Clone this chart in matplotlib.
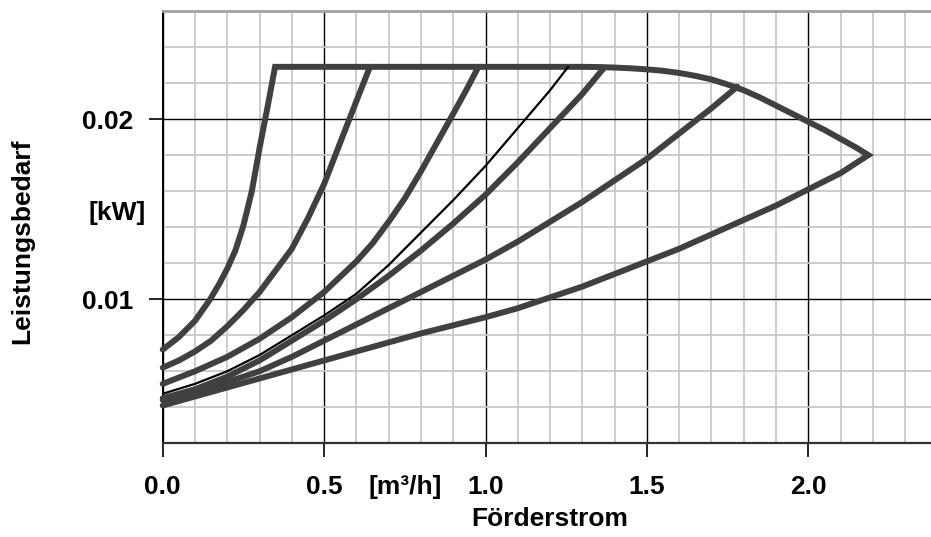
"""
Leistungsbedarf vs. Foerderstrom pump chart (re-drawn).
"""

import matplotlib

matplotlib.use("Agg")
import matplotlib.pyplot as plt
import matplotlib.transforms as mtransforms
from matplotlib.ticker import FixedLocator, MultipleLocator

plt.rcParams["font.family"] = ["Liberation Sans", "DejaVu Sans"]
plt.rcParams["font.weight"] = "bold"

# curves (flow in m3/h, power in kW)
flow_c1 = [0.0, 0.05, 0.10, 0.147, 0.175, 0.20, 0.225, 0.25, 0.276, 0.30, 0.325, 0.348]
power_c1 = [0.0072, 0.0079, 0.0088, 0.0100, 0.01085, 0.0117, 0.0127, 0.0141, 0.0160, 0.0184,
            0.0207, 0.0229]

flow_c2 = [0.0, 0.05, 0.10, 0.15, 0.20, 0.25, 0.30, 0.35, 0.40, 0.45, 0.50, 0.55, 0.60, 0.642]
power_c2 = [0.0062, 0.0066, 0.0071, 0.0077, 0.0085, 0.0094, 0.0104, 0.0116, 0.0128, 0.0145,
            0.0164, 0.0187, 0.0210, 0.0229]

flow_c3 = [0.0, 0.1, 0.2, 0.3, 0.4, 0.5, 0.6, 0.65, 0.7, 0.75, 0.8, 0.85, 0.9, 0.94, 0.978]
power_c3 = [0.0053, 0.0060, 0.0068, 0.0078, 0.0090, 0.0104, 0.0121, 0.0131, 0.0143, 0.0156,
            0.0171, 0.0187, 0.0203, 0.0216, 0.0229]

flow_ref = [0.0, 0.1, 0.2, 0.3, 0.4, 0.5, 0.6, 0.7, 0.8, 0.9, 1.0, 1.1, 1.2, 1.256]
power_ref = [0.00475, 0.0053, 0.0060, 0.0069, 0.0080, 0.0091, 0.0103, 0.0119, 0.0137, 0.0155,
             0.0174, 0.0195, 0.0216, 0.0229]

flow_c4 = [0.0, 0.1, 0.2, 0.3, 0.4, 0.5, 0.6, 0.7, 0.8, 0.9, 1.0, 1.1, 1.2, 1.3, 1.365]
power_c4 = [0.0045, 0.0050, 0.0057, 0.0066, 0.0077, 0.0088, 0.0100, 0.0113, 0.0127, 0.0142,
            0.0158, 0.0176, 0.0195, 0.0214, 0.0228]

flow_c5 = [0.0, 0.1, 0.2, 0.3, 0.4, 0.5, 0.6, 0.7, 0.8, 0.9, 1.0, 1.1, 1.2, 1.3, 1.4, 1.5,
           1.6, 1.7, 1.78]
power_c5 = [0.0044, 0.0048, 0.0054, 0.0060, 0.0068, 0.0077, 0.0086, 0.0095, 0.0104, 0.0113,
            0.0122, 0.0132, 0.0143, 0.0154, 0.0166, 0.0178, 0.0192, 0.0206, 0.0218]

flow_c6 = [0.0, 0.1, 0.2, 0.3, 0.4, 0.5, 0.6, 0.7, 0.8, 0.9, 1.0, 1.1, 1.2, 1.3, 1.4, 1.5,
           1.6, 1.7, 1.8, 1.9, 2.0, 2.1, 2.186]
power_c6 = [0.0041, 0.0046, 0.0051, 0.0056, 0.0061, 0.0066, 0.0071, 0.0076, 0.0081, 0.00855,
            0.0090, 0.0095, 0.0101, 0.0107, 0.0114, 0.0121, 0.0128, 0.0136, 0.0144, 0.0152,
            0.0161, 0.0170, 0.0180]

flow_env = [0.348, 1.30, 1.35, 1.40, 1.45, 1.50, 1.55, 1.60, 1.65, 1.70, 1.75, 1.80, 1.85,
            1.90, 1.95, 2.00, 2.05, 2.10, 2.15, 2.186]
power_env = [0.0229, 0.0229, 0.02289, 0.02286, 0.02282, 0.02276, 0.02268, 0.02256, 0.0224,
             0.0222, 0.02192, 0.0216, 0.0212, 0.02075, 0.0203, 0.01985, 0.0194, 0.0189,
             0.0184, 0.0180]

x_ticks = [0.0, 0.5, 1.0, 1.5, 2.0]
y_ticks = [0.01, 0.02]

GRAY = "#404040"
FS = 19

fig = plt.figure(figsize=(9.31, 5.37), dpi=100)
ax = fig.add_axes([0.1748, 0.1745, 0.8321, 0.8050])
ax.set_xlim(0, 2.4)
ax.set_ylim(0.002, 0.026)

# outer boundary: steepest curve -> envelope -> lowest curve back to 0
outline_x = flow_c1 + flow_env[1:] + flow_c6[::-1][1:]
outline_y = power_c1 + power_env[1:] + power_c6[::-1][1:]
ax.plot(outline_x, outline_y, color=GRAY, lw=4.3, solid_joinstyle="miter",
        solid_capstyle="round", clip_on=False, zorder=3)

for fx, py in ((flow_c2, power_c2), (flow_c3, power_c3), (flow_c4, power_c4), (flow_c5, power_c5)):
    ax.plot(fx, py, color=GRAY, lw=4.3, solid_capstyle="round", clip_on=False, zorder=3)

ax.plot(flow_ref, power_ref, color="black", lw=1.6, solid_capstyle="round", zorder=4)

ax.xaxis.set_major_locator(FixedLocator(x_ticks))
ax.yaxis.set_major_locator(FixedLocator(y_ticks))
ax.xaxis.set_minor_locator(MultipleLocator(0.1))
ax.yaxis.set_minor_locator(MultipleLocator(0.002))
ax.set_xticklabels([f"{v:.1f}" for v in x_ticks])
ax.set_yticklabels([f"{v:.2f}" for v in y_ticks])
ax.tick_params(which="major", direction="out", length=10, width=1.2, color="black",
               labelsize=FS, labelcolor="black")
ax.tick_params(axis="x", which="major", pad=13)
ax.tick_params(axis="y", which="major", pad=11)
ax.tick_params(which="minor", length=0)
for lab in ax.get_xticklabels() + ax.get_yticklabels():
    lab.set_fontweight("bold")

ax.set_axisbelow(True)
ax.grid(which="minor", color="#c8c8c8", lw=1.3)
ax.grid(which="major", color="black", lw=1.0)

ax.spines["right"].set_visible(False)
ax.spines["top"].set_color("#a0a0a0")
ax.spines["top"].set_linewidth(2.0)
ax.spines["left"].set_color("black")
ax.spines["left"].set_linewidth(1.4)
ax.spines["bottom"].set_color("#333333")
ax.spines["bottom"].set_linewidth(1.6)

trans = mtransforms.blended_transform_factory(ax.transData, fig.transFigure)
ax.text(0.75, 1 - 487 / 537, "[m³/h]", transform=trans, ha="center", va="center",
        fontsize=FS, fontweight="bold")
fig.text(550 / 931, 1 - 519 / 537, "Förderstrom", ha="center", va="center",
         fontsize=FS, fontweight="bold")
fig.text(22 / 931, 1 - 241 / 537, "Leistungsbedarf", rotation=90, ha="center",
         va="center", fontsize=FS, fontweight="bold")
fig.text(117 / 931, 1 - 213 / 537, "[kW]", ha="center", va="center",
         fontsize=FS, fontweight="bold")

fig.savefig("out.png", dpi=100)
